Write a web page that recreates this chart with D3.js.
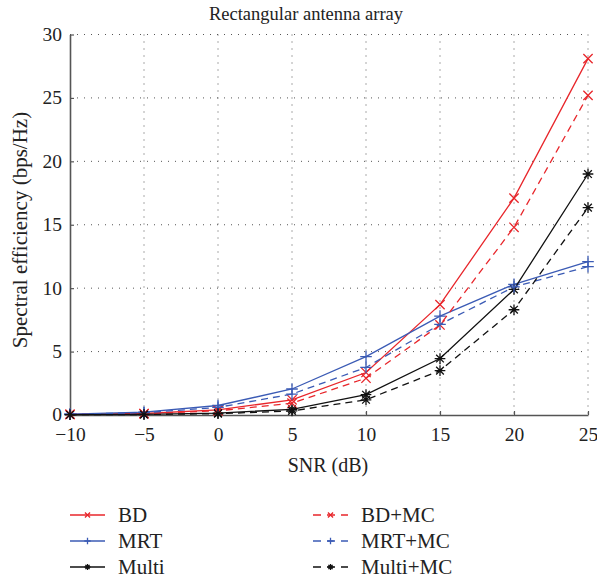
<!DOCTYPE html>
<html>
<head>
<meta charset="utf-8">
<script src="https://cdn.jsdelivr.net/npm/d3@7"></script>
<style>
  body { margin: 0; background: #fff; }
  text { font-family: "Liberation Serif", "DejaVu Serif", serif; fill: #222; }
</style>
</head>
<body>
<div id="chart"></div>
<script>
// data
var snr       = [-10, -5, 0, 5, 10, 15, 20, 25];
var bd        = [0.05, 0.12, 0.4, 1.2, 3.35, 8.7, 17.1, 28.1];
var bdMc      = [0.05, 0.1, 0.33, 0.93, 2.9, 7.1, 14.8, 25.2];
var mrt       = [0.07, 0.22, 0.75, 2.05, 4.6, 7.8, 10.3, 12.1];
var mrtMc     = [0.06, 0.18, 0.6, 1.65, 3.75, 7.15, 10.1, 11.7];
var multi     = [0.03, 0.05, 0.15, 0.45, 1.6, 4.45, 9.9, 19.0];
var multiMc   = [0.02, 0.04, 0.1, 0.32, 1.2, 3.5, 8.3, 16.35];
var xTicks    = [-10, -5, 0, 5, 10, 15, 20, 25];
var yTicks    = [0, 5, 10, 15, 20, 25, 30];

var series = [
  { name: "BD",       values: bd,      color: "#e8262b", dash: null,  marker: "x" },
  { name: "MRT",      values: mrt,     color: "#3b5bb5", dash: null,  marker: "+" },
  { name: "Multi",    values: multi,   color: "#111111", dash: null,  marker: "*" },
  { name: "BD+MC",    values: bdMc,    color: "#e8262b", dash: "7,5", marker: "x" },
  { name: "MRT+MC",   values: mrtMc,   color: "#3b5bb5", dash: "7,5", marker: "+" },
  { name: "Multi+MC", values: multiMc, color: "#111111", dash: "7,5", marker: "*" }
];

var width  = 597;
var height = 582;
var plotL = 70, plotR = 588, plotT = 34.5, plotB = 415;

var x = d3.scaleLinear().domain([-10, 25]).range([plotL, plotR]);
var y = d3.scaleLinear().domain([0, 30]).range([plotB, plotT]);

var svg = d3.select("#chart")
  .append("svg")
  .attr("width", width)
  .attr("height", height);

svg.append("rect").attr("width", width).attr("height", height).attr("fill", "white");

// dotted grid
svg.append("g").selectAll("line")
  .data(xTicks.filter(function(d) { return d > -10; }))
  .enter().append("line")
  .attr("x1", function(d) { return x(d); })
  .attr("x2", function(d) { return x(d); })
  .attr("y1", y(30)).attr("y2", y(0))
  .attr("stroke", "#555").attr("stroke-width", 1)
  .attr("stroke-dasharray", "1,6");

svg.append("g").selectAll("line")
  .data(yTicks.filter(function(d) { return d > 0; }))
  .enter().append("line")
  .attr("y1", function(d) { return y(d); })
  .attr("y2", function(d) { return y(d); })
  .attr("x1", x(-10)).attr("x2", x(25))
  .attr("stroke", "#555").attr("stroke-width", 1)
  .attr("stroke-dasharray", "1,6");

// axes
var xAxis = d3.axisBottom(x).tickValues(xTicks).tickSizeInner(-4).tickSizeOuter(0)
  .tickFormat(function(d) { return d < 0 ? "\u2212" + Math.abs(d) : d; });
var yAxis = d3.axisLeft(y).tickValues(yTicks).tickSizeInner(-4).tickSizeOuter(0);

var gx = svg.append("g").attr("transform", "translate(0," + plotB + ")").call(xAxis);
var gy = svg.append("g").attr("transform", "translate(" + plotL + ",0)").call(yAxis);

[gx, gy].forEach(function(g) {
  g.select(".domain").attr("stroke", "#555").attr("stroke-width", 1.6);
  g.selectAll(".tick line").attr("stroke", "#555").attr("stroke-width", 1.2);
  g.selectAll(".tick text").attr("font-size", 19.5).attr("fill", "#222")
    .style("font-family", "'Liberation Serif', serif");
});
gx.selectAll(".tick text").attr("dy", "0.95em").attr("y", 7);
gy.selectAll(".tick text").attr("x", -8).attr("dy", "0.3em");

// marker drawing
function marker(sel, type, r, color) {
  var p;
  if (type === "x") {
    r = r * 0.8;
    p = "M" + (-r) + "," + (-r) + "L" + r + "," + r + "M" + (-r) + "," + r + "L" + r + "," + (-r);
  } else if (type === "+") {
    p = "M" + (-r) + ",0L" + r + ",0M0," + (-r) + "L0," + r;
  } else {
    r = r * 0.92;
    var d = r * 0.72;
    p = "M" + (-r) + ",0L" + r + ",0M0," + (-r) + "L0," + r +
        "M" + (-d) + "," + (-d) + "L" + d + "," + d + "M" + (-d) + "," + d + "L" + d + "," + (-d);
  }
  sel.append("path").attr("d", p).attr("stroke", color).attr("stroke-width", 1.3).attr("fill", "none");
}

var line = d3.line()
  .x(function(d, i) { return x(snr[i]); })
  .y(function(d) { return y(d); });

var plot = svg.append("g");
series.forEach(function(s) {
  plot.append("path")
    .attr("d", line(s.values))
    .attr("fill", "none")
    .attr("stroke", s.color)
    .attr("stroke-width", 1.3)
    .attr("stroke-dasharray", s.dash);
  s.values.forEach(function(v, i) {
    var g = plot.append("g").attr("transform", "translate(" + x(snr[i]) + "," + y(v) + ")");
    marker(g, s.marker, 5.8, s.color);
  });
});

// title and axis labels
svg.append("text")
  .attr("x", 306).attr("y", 20)
  .attr("text-anchor", "middle")
  .attr("font-size", 18.5)
  .text("Rectangular antenna array");

svg.append("text")
  .attr("x", 328).attr("y", 472)
  .attr("text-anchor", "middle")
  .attr("font-size", 20)
  .text("SNR (dB)");

svg.append("text")
  .attr("transform", "translate(27,230) rotate(-90)")
  .attr("text-anchor", "middle")
  .attr("font-size", 21)
  .text("Spectral efficiency (bps/Hz)");

// legend, two columns
var legendX = [70, 313];
var legendY = [515, 541, 567];
series.forEach(function(s, i) {
  var col = Math.floor(i / 3), row = i % 3;
  var g = svg.append("g").attr("transform", "translate(" + legendX[col] + "," + legendY[row] + ")");
  g.append("line")
    .attr("x1", 0).attr("x2", 35).attr("y1", 0).attr("y2", 0)
    .attr("stroke", s.color).attr("stroke-width", 1.3)
    .attr("stroke-dasharray", s.dash ? "8,6" : null);
  var m = g.append("g").attr("transform", "translate(17.5,0)");
  marker(m, s.marker, 3.2, s.color);
  g.append("text")
    .attr("x", 48).attr("y", 0).attr("dy", "0.35em")
    .attr("font-size", 21)
    .text(s.name);
});
</script>
</body>
</html>
